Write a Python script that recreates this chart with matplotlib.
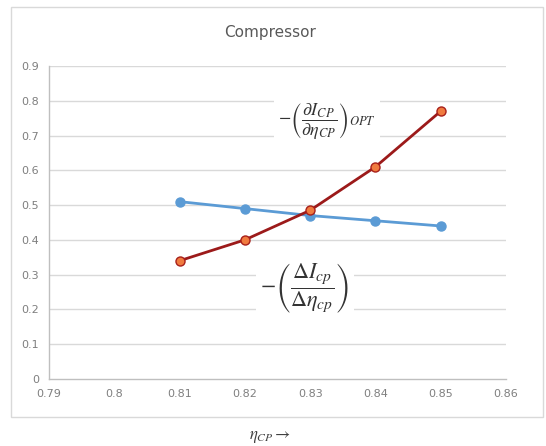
import numpy as np
import matplotlib
matplotlib.use("Agg")
import matplotlib.pyplot as plt
from matplotlib.patches import Rectangle

# Data
eta_cp = [0.81, 0.82, 0.83, 0.84, 0.85]
delta_ratio = [0.51, 0.49, 0.47, 0.455, 0.44]      # blue: -(dI/deta)
partial_opt = [0.34, 0.40, 0.485, 0.61, 0.77]     # red: -(dI/deta)_OPT
x_ticks = [0.79, 0.80, 0.81, 0.82, 0.83, 0.84, 0.85, 0.86]
x_tick_labels = ["0.79", "0.8", "0.81", "0.82", "0.83", "0.84", "0.85", "0.86"]
y_ticks = [0, 0.1, 0.2, 0.3, 0.4, 0.5, 0.6, 0.7, 0.8, 0.9]
y_tick_labels = ["0", "0.1", "0.2", "0.3", "0.4", "0.5", "0.6", "0.7", "0.8", "0.9"]

plt.rcParams['mathtext.fontset'] = 'stix'

W, H = 546, 446
fig = plt.figure(figsize=(W / 100, H / 100), dpi=100)
fig.patch.set_facecolor("white")

# chart frame (Excel-like)
fig.patches.append(Rectangle((11 / W, 1 - 417 / H), (543 - 11) / W, (417 - 7) / H,
                             transform=fig.transFigure, fill=False,
                             edgecolor="#d9d9d9", linewidth=1.0))

ax = fig.add_axes([49 / W, 1 - 379 / H, (506 - 49) / W, (379 - 66) / H])

grid_col = "#d9d9d9"
for v in y_ticks[1:]:
    ax.axhline(v, color=grid_col, linewidth=1.0, zorder=0)

ax.plot(eta_cp, delta_ratio, color="#5b9bd5", linewidth=2.0, marker="o",
        markersize=6.5, markerfacecolor="#5b9bd5", markeredgecolor="#5b9bd5", zorder=3)
ax.plot(eta_cp, partial_opt, color="#9c1a1a", linewidth=2.0, marker="o",
        markersize=6.5, markerfacecolor="#f07b3f", markeredgecolor="#a8201a",
        markeredgewidth=1.0, zorder=4)

ax.set_xlim(0.79, 0.86)
ax.set_ylim(0, 0.9)
ax.set_xticks(x_ticks)
ax.set_xticklabels(x_tick_labels)
ax.set_yticks(y_ticks)
ax.set_yticklabels(y_tick_labels)
ax.tick_params(length=0, labelsize=8, labelcolor="#7f7f7f", pad=7)

for s in ["top", "right"]:
    ax.spines[s].set_visible(False)
for s in ["left", "bottom"]:
    ax.spines[s].set_color("#bfbfbf")
    ax.spines[s].set_linewidth(1.0)

fig.text(270 / W, 1 - 33 / H, "Compressor", ha="center", va="center",
         fontsize=11, color="#595959")
fig.text(270 / W, 1 - 436 / H, r"$\eta_{CP}\rightarrow$", ha="center", va="center",
         fontsize=12, color="#404040")

ax.text(0.8326, 0.738, r"$-\left(\dfrac{\partial I_{CP}}{\partial \eta_{CP}}\right)_{OPT}$",
        ha="center", va="center", fontsize=13, color="#333333",
        bbox=dict(facecolor="white", edgecolor="none", pad=3), zorder=5)
ax.text(0.8292, 0.262, r"$-\left(\dfrac{\Delta I_{cp}}{\Delta \eta_{cp}}\right)$",
        ha="center", va="center", fontsize=16, color="#333333",
        bbox=dict(facecolor="white", edgecolor="none", pad=3), zorder=5)

fig.savefig("out.png", dpi=100)
